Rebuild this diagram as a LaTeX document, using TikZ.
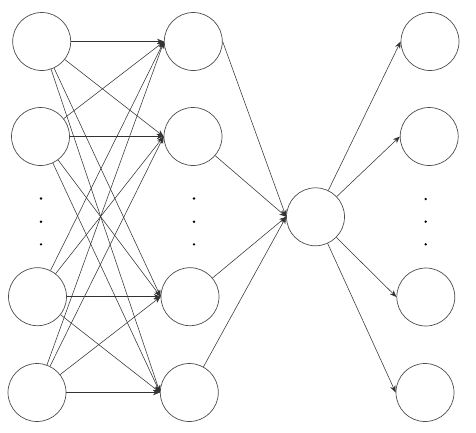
\documentclass[tikz,border=0pt]{standalone}
\usetikzlibrary{arrows.meta}
\begin{document}
\begin{tikzpicture}[x=1pt,y=-1pt,
  neuron/.style={circle,draw=black!70,line width=0.7pt,minimum size=58pt,inner sep=0pt},
  edge/.style={draw=black!80,line width=0.55pt,-{Stealth[length=7pt,width=5.5pt]}},
  dotm/.style={circle,fill=black,inner sep=0pt,minimum size=2.6pt}]
\useasboundingbox (0,0) rectangle (476,432);
% column 1
\node[neuron] (a1) at (41.7,41.5) {};
\node[neuron] (a2) at (40.5,136.5) {};
\node[neuron] (a3) at (37.5,296.7) {};
\node[neuron] (a4) at (37,392.5) {};
% column 2
\node[neuron] (b1) at (193.3,41.5) {};
\node[neuron] (b2) at (193,136.5) {};
\node[neuron] (b3) at (190,296.7) {};
\node[neuron] (b4) at (189.3,392.5) {};
% hidden center
\node[neuron] (h) at (315.5,216.8) {};
% outputs
\node[neuron] (c1) at (430,41.5) {};
\node[neuron] (c2) at (429.2,136.5) {};
\node[neuron] (c3) at (425.8,297) {};
\node[neuron] (c4) at (425,392.5) {};
% dots
\node[dotm] (da1) at (41,198.5) {};
\node[dotm] (da2) at (41,221.7) {};
\node[dotm] (da3) at (41,244.3) {};
\node[dotm] (db1) at (194,198.5) {};
\node[dotm] (db2) at (194,221.7) {};
\node[dotm] (db3) at (194,244.3) {};
\node[dotm] (dc1) at (425.7,199) {};
\node[dotm] (dc2) at (425.7,221.7) {};
\node[dotm] (dc3) at (425.7,244.3) {};
% edges col1 -> col2
\foreach \i in {1,2,3,4}{
  \foreach \j in {1,2,3,4}{
    \path[edge] (a\i) -- (b\j.west);
  }
}
% col2 -> center
\path[edge] (b1.east) -- (h.west);
\path[edge] (b2) -- (h.west);
\path[edge] (b3) -- (h.west);
\path[edge] (b4) -- (h.west);
% center -> outputs
\foreach \k in {1,2,3,4}{
  \path[edge] (h) -- (c\k.west);
}
\end{tikzpicture}
\end{document}
